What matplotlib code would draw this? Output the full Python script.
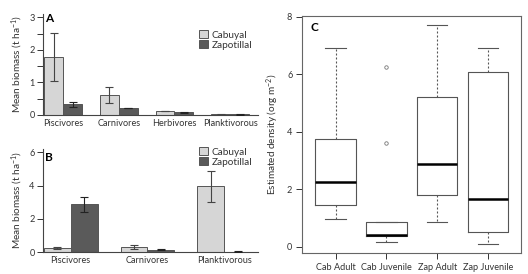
import matplotlib
matplotlib.use("Agg")
import matplotlib.pyplot as plt
from matplotlib.patches import Patch
from matplotlib.ticker import MultipleLocator

plt.rcParams['font.family'] = ['Lato', 'DejaVu Sans']
plt.rcParams['mathtext.fontset'] = 'custom'
plt.rcParams['mathtext.rm'] = 'Lato'
plt.rcParams['mathtext.it'] = 'Lato:italic'

# panel A data
cats_a = ["Piscivores", "Carnivores", "Herbivores", "Planktivorous"]
cab_a = [1.78, 0.62, 0.12, 0.02]
cab_a_err = [0.73, 0.25, 0.01, 0.005]
zap_a = [0.33, 0.22, 0.08, 0.02]
zap_a_err = [0.08, 0.01, 0.01, 0.005]

# panel B data
cats_b = ["Piscivores", "Carnivores", "Planktivorous"]
cab_b = [0.25, 0.30, 3.95]
cab_b_err = [0.04, 0.10, 0.95]
zap_b = [2.87, 0.13, 0.03]
zap_b_err = [0.45, 0.03, 0.01]

# panel C box stats
box_labels = ["Cab Adult", "Cab Juvenile", "Zap Adult", "Zap Juvenile"]
box_low = [0.97, 0.18, 0.88, 0.10]
box_q1 = [1.47, 0.37, 1.82, 0.53]
box_med = [2.27, 0.43, 2.87, 1.68]
box_q3 = [3.77, 0.88, 5.23, 6.07]
box_high = [6.93, 0.88, 7.70, 6.92]
box_fliers = [[], [3.62, 6.27], [], []]

light = "#d6d6d6"
dark = "#5a5a5a"
edge = "#555555"
fs = 7.2     # axis labels
tfs = 6.6    # tick labels

W, H = 528, 274
fig = plt.figure(figsize=(W / 100, H / 100), dpi=100)


def bar_panel(rect, cats, cab, cab_err, zap, zap_err, ylim, xlim, width, letter, leg_y, minor=None):
    ax = fig.add_axes(rect)
    x = range(len(cats))
    xc = [i - width / 2 for i in x]
    xz = [i + width / 2 for i in x]
    ax.bar(xc, cab, width, color=light, edgecolor=edge, linewidth=0.7, zorder=2)
    ax.bar(xz, zap, width, color=dark, edgecolor=edge, linewidth=0.7, zorder=2)
    ax.errorbar(xc, cab, yerr=cab_err, fmt="none", ecolor="#444444", elinewidth=0.8, capsize=3, capthick=0.8, zorder=3)
    ax.errorbar(xz, zap, yerr=zap_err, fmt="none", ecolor="#222222", elinewidth=0.8, capsize=3, capthick=0.8, zorder=3)
    ax.set_xlim(*xlim)
    ax.set_ylim(*ylim)
    ax.set_xticks(list(x))
    ax.set_xticklabels(cats, fontsize=tfs)
    ax.tick_params(axis="x", length=0, pad=3, colors="#333333")
    ax.tick_params(axis="y", labelsize=tfs, length=4, width=0.7, colors="#333333", pad=2)
    if minor:
        ax.yaxis.set_minor_locator(MultipleLocator(minor))
        ax.tick_params(axis="y", which="minor", length=4, width=0.7, colors="#333333")
    for s in ["top", "right"]:
        ax.spines[s].set_visible(False)
    for s in ["left", "bottom"]:
        ax.spines[s].set_color("#444444")
        ax.spines[s].set_linewidth(0.8)
    ax.set_ylabel("Mean biomass (t ha$^{-1}$)", fontsize=fs, color="#333333", labelpad=3)
    ax.text(0.01, leg_y[1], letter, transform=ax.transAxes, fontsize=8.5, fontweight="bold", va="center")
    handles = [Patch(facecolor=light, edgecolor=edge, linewidth=0.7, label="Cabuyal"),
               Patch(facecolor=dark, edgecolor=edge, linewidth=0.7, label="Zapotillal")]
    ax.legend(handles=handles, loc="upper right", bbox_to_anchor=(1.0, leg_y[0]),
              frameon=False, fontsize=fs, handlelength=0.9, handleheight=0.9, handletextpad=0.3,
              labelspacing=0.05, borderpad=0.1, labelcolor="#333333")
    return ax


bar_panel([43 / W, 1 - 115 / H, 215 / W, 101 / H], cats_a, cab_a, cab_a_err, zap_a, zap_a_err,
          (0, 3.1), (-0.36, 3.5), 0.34, "A", (0.90, 0.96), minor=0.5)
bar_panel([43 / W, 1 - 252 / H, 215 / W, 103 / H], cats_b, cab_b, cab_b_err, zap_b, zap_b_err,
          (0, 6.2), (-0.36, 2.44), 0.35, "B", (1.077, 0.92))

# panel C
axc = fig.add_axes([302 / W, 1 - 253 / H, 219 / W, 237 / H])
stats = []
for i, lab in enumerate(box_labels):
    stats.append({"label": lab, "whislo": box_low[i], "q1": box_q1[i], "med": box_med[i],
                  "q3": box_q3[i], "whishi": box_high[i], "fliers": box_fliers[i]})
axc.bxp(stats, positions=[1, 2, 3, 4], widths=0.8,
        boxprops=dict(color="#555555", linewidth=0.8),
        whiskerprops=dict(color="#555555", linewidth=0.8, linestyle=(0, (1.8, 1.8))),
        capprops=dict(color="#555555", linewidth=0.8),
        medianprops=dict(color="black", linewidth=1.8),
        flierprops=dict(marker="o", markersize=2.5, markerfacecolor="none",
                        markeredgecolor="#777777", markeredgewidth=0.6),
        capwidths=0.4)
axc.set_xlim(0.34, 4.65)
axc.set_ylim(-0.21, 8.03)
axc.set_yticks([0, 2, 4, 6, 8])
axc.set_xticks([1, 2, 3, 4])
axc.set_xticklabels(box_labels, fontsize=tfs, color="#333333")
axc.tick_params(axis="both", labelsize=tfs, length=4, width=0.7, colors="#333333", pad=3)
for s in axc.spines.values():
    s.set_color("#666666")
    s.set_linewidth(0.8)
axc.set_ylabel("Estimated density (org m$^{-2}$)", fontsize=fs, color="#333333", labelpad=4)
axc.text(0.04, 0.95, "C", transform=axc.transAxes, fontsize=8.5, fontweight="bold", va="center")

fig.savefig("out.png", dpi=100)
